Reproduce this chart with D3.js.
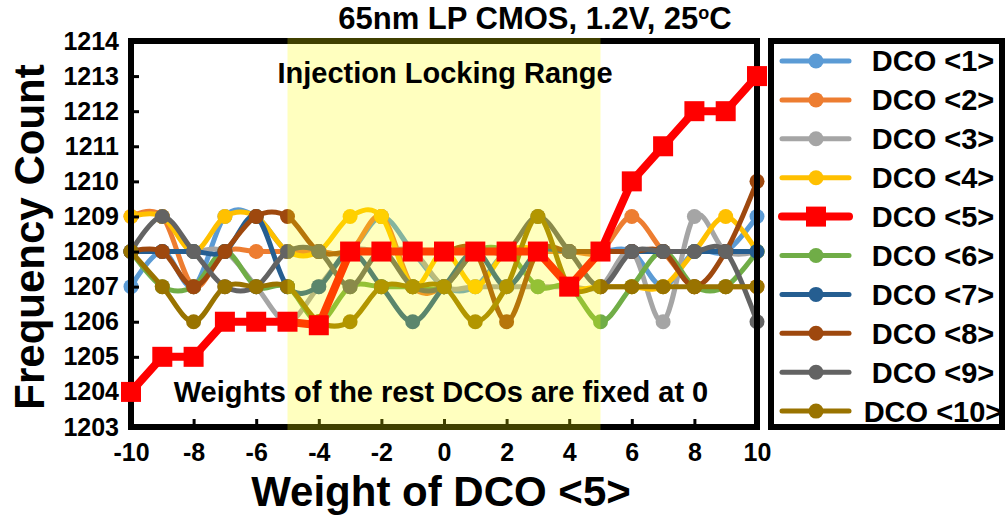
<!DOCTYPE html>
<html>
<head>
<meta charset="utf-8">
<script src="https://cdn.jsdelivr.net/npm/d3@7/dist/d3.min.js"></script>
<style>
  body { margin: 0; background: #fff; }
  svg text { font-family: "Liberation Sans", Arial, sans-serif; font-weight: bold; fill: #000; }
</style>
</head>
<body>
<div id="chart"></div>
<script>
// x categories (weight of DCO <5>)
const weights = [-10, -9, -8, -7, -6, -5, -4, -3, -2, -1, 0, 1, 2, 3, 4, 5, 6, 7, 8, 9, 10];
const xTicks = [-10, -8, -6, -4, -2, 0, 2, 4, 6, 8, 10];
const yTicks = [1203, 1204, 1205, 1206, 1207, 1208, 1209, 1210, 1211, 1212, 1213, 1214];

// frequency counts
const dco1 = [1207, 1208, 1207, 1209, 1209, 1208, 1208, 1208, 1209, 1208, 1207, 1207, 1208, 1208, 1208, 1208, 1208, 1207, 1208, 1208, 1209];
const dco2 = [1209, 1209, 1207, 1208, 1208, 1208, 1208, 1208, 1209, 1207, 1207, 1208, 1208, 1208, 1208, 1208, 1209, 1208, 1207, 1207, 1207];
const dco3 = [1208, 1208, 1208, 1208, 1207, 1206, 1207, 1208, 1208, 1208, 1207, 1207, 1207, 1207, 1207, 1207, 1208, 1206, 1209, 1208, 1208];
const dco4 = [1209, 1209, 1208, 1209, 1209, 1208, 1208, 1209, 1209, 1207, 1208, 1207, 1208, 1208, 1207, 1207, 1207, 1207, 1208, 1209, 1208];
const dco5 = [1204, 1205, 1205, 1206, 1206, 1206, 1205.9, 1208, 1208, 1208, 1208, 1208, 1208, 1208, 1207, 1208, 1210, 1211, 1212, 1212, 1213];
const dco6 = [1208, 1207, 1207, 1208, 1207, 1207, 1206, 1207, 1207, 1207, 1207, 1208, 1208, 1207, 1207, 1206, 1207, 1208, 1207, 1207, 1208];
const dco7 = [1208, 1208, 1208, 1208, 1209, 1207, 1207, 1208, 1207, 1206, 1207, 1208, 1207, 1208, 1208, 1208, 1208, 1208, 1208, 1208, 1208];
const dco8 = [1208, 1208, 1207, 1208, 1209, 1209, 1208, 1208, 1208, 1208, 1208, 1208, 1206, 1208, 1208, 1208, 1208, 1208, 1207, 1208, 1210];
const dco9 = [1208, 1209, 1208, 1207, 1207, 1208, 1208, 1207, 1208, 1207, 1207, 1208, 1208, 1209, 1208, 1207, 1208, 1208, 1208, 1208, 1206];
const dco10 = [1208, 1207, 1206, 1207, 1207, 1207, 1206, 1206, 1207, 1207, 1207, 1206, 1207, 1209, 1207, 1207, 1207, 1207, 1207, 1207, 1207];

const seriesNames = ["DCO <1>", "DCO <2>", "DCO <3>", "DCO <4>", "DCO <5>", "DCO <6>", "DCO <7>", "DCO <8>", "DCO <9>", "DCO <10>"];
const seriesColors = ["#5B9BD5", "#ED7D31", "#A5A5A5", "#FFC000", "#FF0000", "#70AD47", "#255E91", "#9E480E", "#636363", "#997300"];
const lockRange = [-5, 5];

const series = [dco1, dco2, dco3, dco4, dco5, dco6, dco7, dco8, dco9, dco10].map((vals, i) => ({
  name: seriesNames[i],
  color: seriesColors[i],
  highlight: i === 4,
  points: vals.map((v, j) => ({ x: weights[j], y: v }))
}));

const width = 1008, height = 521;
const plot = { left: 131, right: 757, top: 41, bottom: 427 };

const svg = d3.select("#chart").append("svg")
  .attr("width", width)
  .attr("height", height);

const x = d3.scaleLinear().domain([-10, 10]).range([plot.left, plot.right]);
const y = d3.scaleLinear().domain([1203, 1214]).range([plot.bottom, plot.top]);

const smooth = d3.line().x(d => x(d.x)).y(d => y(d.y)).curve(d3.curveCardinal.tension(0));
const straight = d3.line().x(d => x(d.x)).y(d => y(d.y));

// data lines + round markers (DCO <5> line drawn last)
const ordered = series.filter(s => !s.highlight).concat(series.filter(s => s.highlight));
const marks = svg.append("g").attr("class", "marks");
ordered.forEach(s => {
  marks.append("path")
    .datum(s.points)
    .attr("fill", "none")
    .attr("stroke", s.color)
    .attr("stroke-width", s.highlight ? 8 : 5)
    .attr("stroke-linejoin", "round")
    .attr("d", s.highlight ? straight : smooth);
  if (!s.highlight) {
    marks.selectAll(null)
      .data(s.points)
      .enter()
      .append("circle")
      .attr("cx", d => x(d.x))
      .attr("cy", d => y(d.y))
      .attr("r", 7.5)
      .attr("fill", s.color);
  }
});

// axes, ticks pointing into the plot
const yAxis = svg.append("g")
  .attr("transform", `translate(${plot.left},0)`)
  .call(d3.axisLeft(y).tickValues(yTicks).tickFormat(d => String(d))
    .tickSizeInner(-8).tickSizeOuter(0).tickPadding(12));
const xAxis = svg.append("g")
  .attr("transform", `translate(0,${plot.bottom})`)
  .call(d3.axisBottom(x).tickValues(xTicks).tickFormat(d => String(d))
    .tickSizeInner(-8).tickSizeOuter(0).tickPadding(16));
[xAxis, yAxis].forEach(a => {
  a.select(".domain").remove();
  a.selectAll(".tick line").attr("stroke", "#000").attr("stroke-width", 3);
  a.selectAll(".tick text").style("font-size", "25px");
});

// plot frame
svg.append("rect")
  .attr("x", plot.left).attr("y", plot.top)
  .attr("width", plot.right - plot.left).attr("height", plot.bottom - plot.top)
  .attr("fill", "none").attr("stroke", "#000").attr("stroke-width", 6);

// injection locking band (translucent, over the lines)
svg.append("rect")
  .attr("x", x(lockRange[0])).attr("y", plot.top - 3)
  .attr("width", x(lockRange[1]) - x(lockRange[0]))
  .attr("height", plot.bottom - plot.top + 6)
  .attr("fill", "#FFFF00").attr("opacity", 0.25);

// square markers of DCO <5> on top
const red = series.find(s => s.highlight);
svg.append("g").selectAll("rect")
  .data(red.points)
  .enter()
  .append("rect")
  .attr("x", d => x(d.x) - 10)
  .attr("y", d => y(d.y) - 10)
  .attr("width", 20).attr("height", 20)
  .attr("fill", red.color);

// annotations
svg.append("text")
  .attr("x", 445).attr("y", 83)
  .attr("text-anchor", "middle")
  .style("font-size", "29px")
  .text("Injection Locking Range");
svg.append("text")
  .attr("x", 441).attr("y", 402)
  .attr("text-anchor", "middle")
  .style("font-size", "29px")
  .text("Weights of the rest DCOs are fixed at 0");

// title
const title = svg.append("text")
  .attr("x", 535).attr("y", 29)
  .attr("text-anchor", "middle")
  .style("font-size", "31px");
title.append("tspan").text("65nm LP CMOS, 1.2V, 25");
title.append("tspan").attr("dy", -10).style("font-size", "18px").text("o");
title.append("tspan").attr("dy", 10).text("C");

// axis titles
svg.append("text")
  .attr("x", 441).attr("y", 506)
  .attr("text-anchor", "middle")
  .style("font-size", "42px")
  .text("Weight of DCO <5>");
svg.append("text")
  .attr("transform", "translate(44,237) rotate(-90)")
  .attr("text-anchor", "middle")
  .style("font-size", "42px")
  .text("Frequency Count");

// legend
const legend = { left: 771, right: 1002, top: 41, bottom: 427 };
svg.append("rect")
  .attr("x", legend.left).attr("y", legend.top)
  .attr("width", legend.right - legend.left).attr("height", legend.bottom - legend.top)
  .attr("fill", "#fff").attr("stroke", "#000").attr("stroke-width", 6);

const rowH = 38.9;
const rows = svg.append("g").selectAll("g")
  .data(series)
  .enter()
  .append("g")
  .attr("transform", (d, i) => `translate(0,${61 + i * rowH})`);
rows.append("line")
  .attr("x1", 782).attr("x2", 849)
  .attr("stroke", d => d.color)
  .attr("stroke-width", d => d.highlight ? 8 : 5)
  .attr("stroke-linecap", "round");
rows.filter(d => !d.highlight).append("circle")
  .attr("cx", 816).attr("r", 7.5)
  .attr("fill", d => d.color);
rows.filter(d => d.highlight).append("rect")
  .attr("x", 806).attr("y", -10).attr("width", 20).attr("height", 20)
  .attr("fill", d => d.color);
rows.append("text")
  .attr("x", 933).attr("dy", "0.36em")
  .attr("text-anchor", "middle")
  .style("font-size", "29px")
  .text(d => d.name);
</script>
</body>
</html>
